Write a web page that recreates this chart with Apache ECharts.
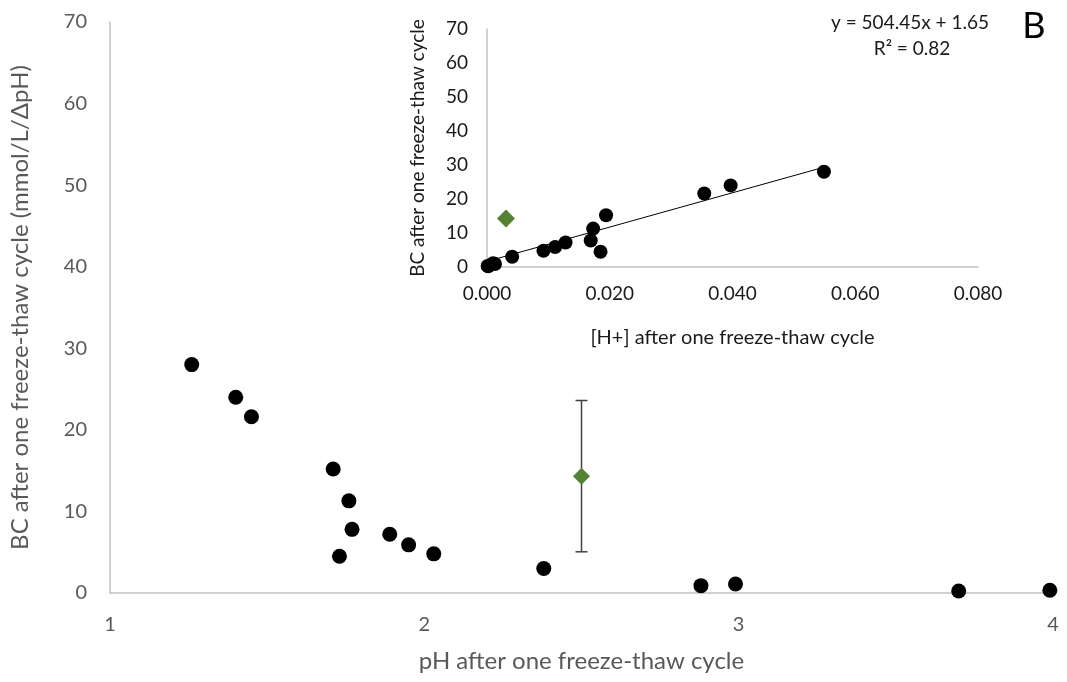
<!DOCTYPE html>
<html>
<head>
<meta charset="utf-8">
<script src="https://cdn.jsdelivr.net/npm/echarts@6/dist/echarts.min.js"></script>
<style>
html,body{margin:0;padding:0;background:#fff;}
#chart{width:1067px;height:682px;}
</style>
</head>
<body>
<div id="chart"></div>
<script>
// Main panel: pH vs buffer capacity (BC)
const phValues = [1.26, 1.40, 1.45, 1.71, 1.76, 1.77, 1.73, 1.89, 1.95, 2.03, 2.38, 2.88, 2.99, 3.70, 3.99];
const bcValues = [28.0, 24.0, 21.6, 15.2, 11.3, 7.8, 4.5, 7.2, 5.9, 4.8, 3.0, 0.9, 1.1, 0.24, 0.33];
// Inset: [H+] vs BC (same samples)
const hValues = [0.0549, 0.0397, 0.0354, 0.0194, 0.0173, 0.0169, 0.0185, 0.0128, 0.0111, 0.0092, 0.0041, 0.0013, 0.0010, 0.0002, 0.0001];
// Outlier sample (green diamond) with error bar
const outlierPh = [2.50];
const outlierH = [0.0031];
const outlierBc = [14.3];
const outlierLow = [5.05];
const outlierHigh = [23.6];
// Trendline endpoints (y = 504.45x + 1.65)
const trendX = [0.0, 0.055];
const trendY = [1.65, 29.4];
// Tick settings
const mainXTicks = {min: 1, max: 4, interval: 1};
const yTicks = {min: 0, max: 70, interval: 10};
const insetXTicks = {min: 0, max: 0.08, interval: 0.02};
const equationText = 'y = 504.45x + 1.65';
const r2Text = 'R\u00B2 = 0.82';
const panelLabel = 'B';

const FONT = 'Lato';
const GRAY = '#595959';
const DARK = '#1a1a1a';
const AXIS = '#c0c0c0';

const mainPts = phValues.map((v, i) => [v, bcValues[i]]);
const insetPts = hValues.map((v, i) => [v, bcValues[i]]);
const outMain = outlierPh.map((v, i) => [v, outlierBc[i]]);
const outInset = outlierH.map((v, i) => [v, outlierBc[i]]);
const errData = outlierPh.map((v, i) => [v, outlierLow[i], outlierHigh[i]]);
const trendData = trendX.map((v, i) => [v, trendY[i]]);

const chart = echarts.init(document.getElementById('chart'), null, {renderer: 'canvas'});

const option = {
  animation: false,
  backgroundColor: '#ffffff',
  grid: [
    {left: 108, top: 22, width: 945, height: 571},
    {left: 487, top: 29, width: 491, height: 238}
  ],
  xAxis: [
    {
      gridIndex: 0, type: 'value', min: mainXTicks.min, max: mainXTicks.max, interval: mainXTicks.interval,
      name: 'pH after one freeze-thaw cycle', nameLocation: 'middle', nameGap: 56,
      nameTextStyle: {fontFamily: FONT, fontSize: 24, color: GRAY},
      axisLine: {show: true, lineStyle: {color: AXIS, width: 1.5}},
      axisTick: {show: false}, splitLine: {show: false},
      axisLabel: {fontFamily: FONT, fontSize: 20, color: GRAY, margin: 22}
    },
    {
      gridIndex: 1, type: 'value', min: insetXTicks.min, max: insetXTicks.max, interval: insetXTicks.interval,
      name: '[H+] after one freeze-thaw cycle', nameLocation: 'middle', nameGap: 61,
      nameTextStyle: {fontFamily: FONT, fontSize: 20, color: DARK},
      axisLine: {show: true, lineStyle: {color: AXIS, width: 1.5}},
      axisTick: {show: false}, splitLine: {show: false},
      axisLabel: {fontFamily: FONT, fontSize: 19, color: DARK, margin: 17,
        formatter: v => v.toFixed(3)}
    }
  ],
  yAxis: [
    {
      gridIndex: 0, type: 'value', min: yTicks.min, max: yTicks.max, interval: yTicks.interval,
      name: 'BC after one freeze-thaw cycle (mmol/L/\u0394pH)', nameLocation: 'middle', nameGap: 78,
      nameTextStyle: {fontFamily: FONT, fontSize: 24, color: GRAY},
      axisLine: {show: true, lineStyle: {color: AXIS, width: 1.5}},
      axisTick: {show: false}, splitLine: {show: false},
      axisLabel: {fontFamily: FONT, fontSize: 20, color: GRAY, margin: 23}
    },
    {
      gridIndex: 1, type: 'value', min: yTicks.min, max: yTicks.max, interval: yTicks.interval,
      name: 'BC after one freeze-thaw cycle', nameLocation: 'middle', nameGap: 60,
      nameTextStyle: {fontFamily: FONT, fontSize: 19, color: DARK},
      axisLine: {show: true, lineStyle: {color: AXIS, width: 1.5}},
      axisTick: {show: false}, splitLine: {show: false},
      axisLabel: {fontFamily: FONT, fontSize: 19, color: DARK, margin: 19}
    }
  ],
  graphic: [
    {type: 'text', x: 910, y: 23, style: {text: equationText, fontFamily: FONT, fontSize: 19, fill: DARK, align: 'center', verticalAlign: 'middle'}},
    {type: 'text', x: 912, y: 49, style: {text: r2Text, fontFamily: FONT, fontSize: 19, fill: DARK, align: 'center', verticalAlign: 'middle'}},
    {type: 'text', x: 1034, y: 26, style: {text: panelLabel, fontFamily: FONT, fontSize: 36, fill: '#000000', align: 'center', verticalAlign: 'middle'}}
  ],
  series: [
    {
      type: 'custom', xAxisIndex: 0, yAxisIndex: 0, data: errData, z: 3,
      renderItem: function (params, api) {
        const x = api.value(0);
        const lo = api.coord([x, api.value(1)]);
        const hi = api.coord([x, api.value(2)]);
        const cap = 6;
        const st = {stroke: '#404040', lineWidth: 1.5};
        return {type: 'group', children: [
          {type: 'line', shape: {x1: lo[0], y1: lo[1], x2: hi[0], y2: hi[1]}, style: st},
          {type: 'line', shape: {x1: lo[0] - cap, y1: lo[1], x2: lo[0] + cap, y2: lo[1]}, style: st},
          {type: 'line', shape: {x1: hi[0] - cap, y1: hi[1], x2: hi[0] + cap, y2: hi[1]}, style: st}
        ]};
      }
    },
    {type: 'scatter', xAxisIndex: 0, yAxisIndex: 0, data: mainPts, symbol: 'circle', symbolSize: 15,
      itemStyle: {color: '#000000', opacity: 1}, z: 4},
    {type: 'scatter', xAxisIndex: 0, yAxisIndex: 0, data: outMain, symbol: 'diamond', symbolSize: 17,
      itemStyle: {color: '#548235', opacity: 1}, z: 5},
    {type: 'line', xAxisIndex: 1, yAxisIndex: 1, data: trendData, symbol: 'none',
      lineStyle: {color: '#000000', width: 1}, z: 3},
    {type: 'scatter', xAxisIndex: 1, yAxisIndex: 1, data: insetPts, symbol: 'circle', symbolSize: 14,
      itemStyle: {color: '#000000', opacity: 1}, z: 4},
    {type: 'scatter', xAxisIndex: 1, yAxisIndex: 1, data: outInset, symbol: 'diamond', symbolSize: 18,
      itemStyle: {color: '#548235', opacity: 1}, z: 5}
  ]
};
chart.setOption(option);
</script>
</body>
</html>
